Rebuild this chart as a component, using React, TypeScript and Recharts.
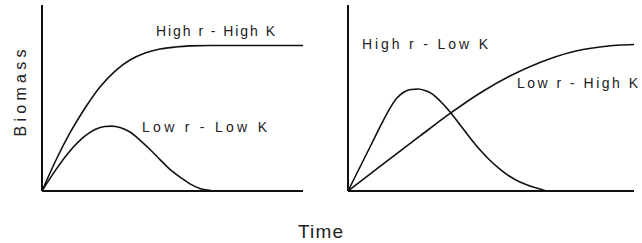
import React from "react";
import { LineChart, Line, XAxis, YAxis } from "recharts";

// Left panel
const leftHighRHighKTime = [0, 5.0, 10.7, 16.5, 22.2, 28.0, 33.7, 39.5, 45.2, 51.0, 56.7, 64.4, 100];
const leftHighRHighKBiomass = [0, 15.6, 31.2, 44.6, 55.9, 64.5, 70.4, 74.2, 76.3, 77.4, 78.0, 78.2, 78.2];
const leftLowRLowKTime = [0, 5.0, 10.7, 16.5, 20.3, 24.1, 26.8, 29.9, 33.7, 37.5, 41.4, 45.2, 49.0, 52.9, 56.7, 60.5, 64.4, 67.4, 100];
const leftLowRLowKBiomass = [0, 10.8, 21.5, 29.6, 33.1, 34.7, 34.9, 34.1, 31.7, 27.4, 22.3, 16.9, 11.6, 7.5, 3.8, 1.3, 0.3, 0, 0];

// Right panel
const rightHighRLowKTime = [0, 4.2, 8.4, 11.9, 14.7, 17.1, 19.6, 22.0, 24.5, 26.9, 29.4, 32.2, 35.7, 39.2, 42.7, 46.2, 49.7, 53.1, 56.6, 60.1, 63.6, 67.1, 69.9, 100];
const rightHighRLowKBiomass = [0, 12.9, 25.8, 36.6, 44.6, 50.0, 53.2, 54.6, 54.8, 54.0, 52.2, 48.4, 42.5, 35.5, 28.5, 22.0, 16.4, 11.8, 7.8, 4.8, 2.7, 1.1, 0, 0];
const rightLowRHighKTime = [0, 11.2, 25.2, 35.7, 46.2, 56.6, 67.1, 77.6, 88.1, 95.1, 100];
const rightLowRHighKBiomass = [0, 13.2, 29.6, 41.7, 52.7, 61.8, 69.1, 74.5, 77.4, 78.5, 78.8];

// Text
const yAxisTitle = "Biomass";
const xAxisTitle = "Time";
const curveLabels = ["High r - High K", "Low r - Low K", "High r - Low K", "Low r - High K"];

type Row = { t: number; a?: number; b?: number };

const merge = (ta: number[], va: number[], tb: number[], vb: number[]): Row[] => {
  const map = new Map<number, Row>();
  ta.forEach((t, i) => {
    const r = map.get(t) || { t };
    r.a = va[i];
    map.set(t, r);
  });
  tb.forEach((t, i) => {
    const r = map.get(t) || { t };
    r.b = vb[i];
    map.set(t, r);
  });
  return Array.from(map.values()).sort((x, y) => x.t - y.t);
};

const FONT = "'Liberation Sans', Arial, sans-serif";
const INK = "#111";

function Panel({
  width,
  margin,
  data,
}: {
  width: number;
  margin: { top: number; right: number; bottom: number; left: number };
  data: Row[];
}) {
  return (
    <LineChart width={width} height={243} margin={margin} data={data}>
      <XAxis
        type="number"
        dataKey="t"
        domain={[0, 100]}
        tick={false}
        tickLine={false}
        height={1}
        axisLine={{ stroke: INK, strokeWidth: 2.2 }}
      />
      <YAxis
        type="number"
        domain={[0, 100]}
        tick={false}
        tickLine={false}
        width={1}
        axisLine={{ stroke: INK, strokeWidth: 2 }}
      />
      {(["a", "b"] as const).map((k) => (
        <Line
          key={k}
          dataKey={k}
          type="monotone"
          stroke={INK}
          strokeWidth={1.6}
          dot={false}
          activeDot={false}
          connectNulls
          isAnimationActive={false}
        />
      ))}
    </LineChart>
  );
}

export default function App() {
  const leftData = merge(leftHighRHighKTime, leftHighRHighKBiomass, leftLowRLowKTime, leftLowRLowKBiomass);
  const rightData = merge(rightHighRLowKTime, rightHighRLowKBiomass, rightLowRHighKTime, rightLowRHighKBiomass);
  const labelStyle = { fontFamily: FONT, fontSize: 14, fill: "#222" } as const;
  return (
    <div style={{ position: "absolute", left: 0, top: 0, width: 642, height: 243, background: "#fff" }}>
      <div style={{ position: "absolute", left: 0, top: 0 }}>
        <Panel width={320} margin={{ top: 5, right: 17, bottom: 51, left: 41 }} data={leftData} />
      </div>
      <div style={{ position: "absolute", left: 320, top: 0 }}>
        <Panel width={322} margin={{ top: 5, right: 8, bottom: 51, left: 27 }} data={rightData} />
      </div>
      <svg
        width={642}
        height={243}
        style={{ position: "absolute", left: 0, top: 0, pointerEvents: "none" }}
      >
        <text
          transform="translate(26,93) rotate(-90)"
          textAnchor="middle"
          textLength={87}
          lengthAdjust="spacing"
          style={{ fontFamily: FONT, fontSize: 16, fill: "#222" }}
        >
          {yAxisTitle}
        </text>
        <text
          x={298}
          y={238}
          textLength={45}
          lengthAdjust="spacing"
          style={{ fontFamily: FONT, fontSize: 19, fill: "#222" }}
        >
          {xAxisTitle}
        </text>
        <text x={156} y={36} textLength={119} lengthAdjust="spacing" style={labelStyle}>
          {curveLabels[0]}
        </text>
        <text x={142} y={132} textLength={125} lengthAdjust="spacing" style={labelStyle}>
          {curveLabels[1]}
        </text>
        <text x={362} y={49} textLength={126} lengthAdjust="spacing" style={labelStyle}>
          {curveLabels[2]}
        </text>
        <text x={517} y={88} textLength={121} lengthAdjust="spacing" style={labelStyle}>
          {curveLabels[3]}
        </text>
      </svg>
    </div>
  );
}
